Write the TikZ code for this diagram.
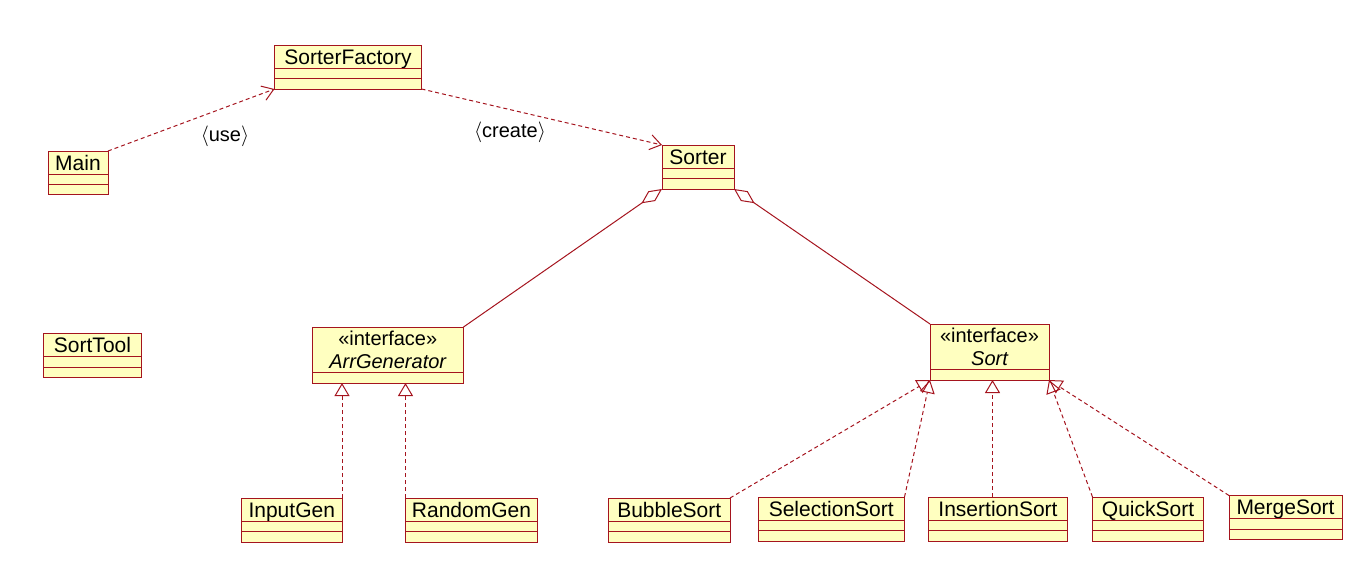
\documentclass[tikz,border=0pt]{standalone}
\usepackage{fontspec}
\setmainfont{Liberation Sans}
\usetikzlibrary{arrows.meta}
\definecolor{umlred}{RGB}{165,20,30}
\definecolor{umlfill}{RGB}{255,255,192}
\tikzset{
  clsbox/.style={draw=umlred, fill=umlfill, line width=1pt, inner sep=0pt, outer sep=0pt, anchor=north west},
  clsline/.style={umlred, line width=1pt},
  clstext/.style={anchor=base, inner sep=0pt, font=\fontsize{21pt}{25pt}\selectfont},
  ifctext/.style={anchor=base, inner sep=0pt, font=\fontsize{20pt}{24pt}\selectfont},
  lbl/.style={anchor=base, inner sep=0pt, font=\fontsize{20pt}{24pt}\selectfont},
  dep/.style={umlred, line width=1pt, dash pattern=on 4pt off 3pt, -{Straight Barb[length=11pt,width=15pt]}},
  real/.style={umlred, line width=1pt, dash pattern=on 4pt off 3pt, -{Triangle[open,length=13pt,width=15pt]}},
  agg/.style={umlred, line width=1pt, {Diamond[open,length=25pt,width=12pt]}-}
}
\newcommand{\umlcls}[6]{%
  \node[clsbox, minimum width=#4pt, minimum height=#5pt] (#1) at (#2,#3) {};
  \node[clstext] (#1-name) at ([yshift=-19pt]#1.north) {#6};
  \draw[clsline] ([yshift=-23pt]#1.north west) -- ([yshift=-23pt]#1.north east);
  \draw[clsline] ([yshift=-33.5pt]#1.north west) -- ([yshift=-33.5pt]#1.north east);
}
\newcommand{\umlifc}[6]{%
  \node[clsbox, minimum width=#4pt, minimum height=#5pt] (#1) at (#2,#3) {};
  \node[ifctext] (#1-st) at ([yshift=-18.5pt]#1.north) {«interface»};
  \node[ifctext] (#1-name) at ([yshift=-41pt]#1.north) {\itshape #6};
  \draw[clsline] ([yshift=-45pt]#1.north west) -- ([yshift=-45pt]#1.north east);
}
\begin{document}
\begin{tikzpicture}[x=1pt,y=-1pt]
\useasboundingbox (0,0) rectangle (1367,584);
\umlcls{SorterFactory}{274.5}{45}{147}{44}{SorterFactory}
\umlcls{Main}{48}{151}{60}{43}{Main}
\umlcls{Sorter}{662}{145}{72}{44}{Sorter}
\umlcls{SortTool}{43.5}{333.5}{98}{43.5}{SortTool}
\umlifc{ArrGenerator}{312}{327}{151.5}{56}{ArrGenerator}
\umlifc{Sort}{930}{324}{119}{56}{Sort}
\umlcls{InputGen}{241.5}{498}{100.5}{44}{InputGen}
\umlcls{RandomGen}{405.5}{498}{132}{44}{RandomGen}
\umlcls{BubbleSort}{608.5}{498}{121.5}{44}{BubbleSort}
\umlcls{SelectionSort}{758}{497}{146.5}{44}{SelectionSort}
\umlcls{InsertionSort}{928.5}{497}{139}{44}{InsertionSort}
\umlcls{QuickSort}{1092.5}{497}{111}{44}{QuickSort}
\umlcls{MergeSort}{1229}{495.5}{113}{44}{MergeSort}

\draw[dep] (Main.north east) -- (SorterFactory.south west);
\node[lbl] (uselbl) at (225,141) {$\langle$use$\rangle$};
\draw[dep] (SorterFactory.south east) -- (Sorter.north west);
\node[lbl] (createlbl) at (510,137.5) {$\langle$create$\rangle$};

\draw[agg] (Sorter.south west) -- (ArrGenerator.north east);
\draw[agg] (Sorter.south east) -- (Sort.north west);

\draw[real] (InputGen.north east) -- (InputGen.north east |- ArrGenerator.south);
\draw[real] (RandomGen.north west) -- (RandomGen.north west |- ArrGenerator.south);

\draw[real] (BubbleSort.north east) -- (Sort.south west);
\draw[real] (SelectionSort.north east) -- (Sort.south west);
\coordinate (insTop) at (992.5,497);
\draw[real] (insTop) -- (insTop |- Sort.south);
\draw[real] (QuickSort.north west) -- (Sort.south east);
\draw[real] (MergeSort.north west) -- (Sort.south east);
\end{tikzpicture}
\end{document}
